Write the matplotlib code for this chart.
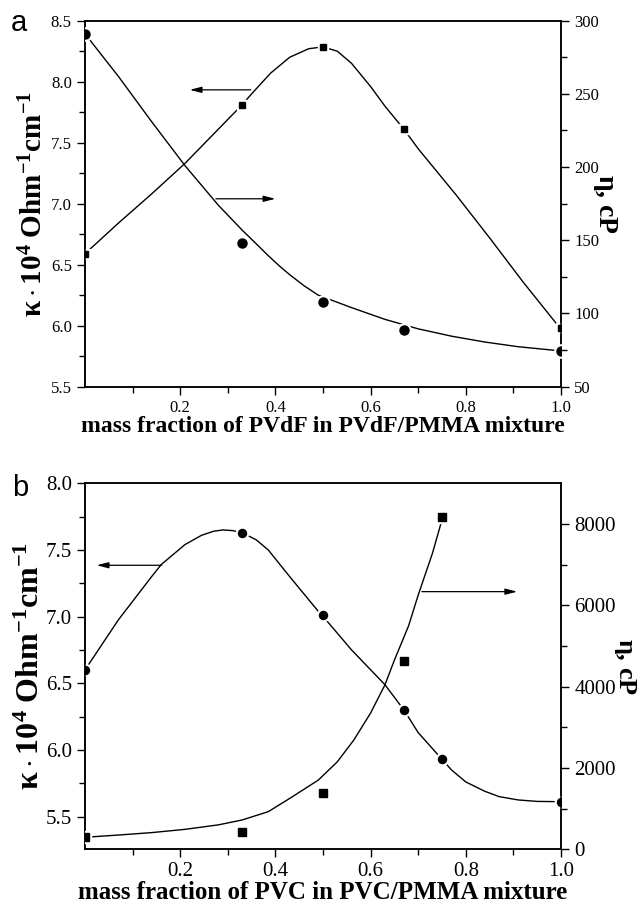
import matplotlib
matplotlib.use("Agg")
import matplotlib.pyplot as plt
from matplotlib.ticker import FixedLocator, FormatStrFormatter

plt.rcParams['font.family'] = 'Liberation Serif'
plt.rcParams['mathtext.fontset'] = 'custom'
plt.rcParams['mathtext.rm'] = 'Liberation Serif'
plt.rcParams['mathtext.it'] = 'Liberation Serif:italic'
plt.rcParams['mathtext.bf'] = 'Liberation Serif:bold'

# ---- panel a: PVdF/PMMA ----
a_x = [0, 0.33, 0.5, 0.67, 1.0]
a_kappa = [6.59, 7.81, 8.28, 7.61, 5.98]      # squares, left axis
a_eta = [291, 148, 108, 88.5, 74.4]           # circles, right axis

# smooth curves
a_kappa_cx = [0, 0.07, 0.14, 0.21, 0.28, 0.33, 0.35, 0.39, 0.43, 0.47, 0.50,
              0.53, 0.56, 0.60, 0.63, 0.67, 0.70, 0.78, 0.85, 0.92, 1.0]
a_kappa_cy = [6.59, 6.84, 7.08, 7.33, 7.61, 7.81, 7.90, 8.07, 8.20, 8.27, 8.285,
              8.25, 8.15, 7.96, 7.80, 7.61, 7.45, 7.07, 6.72, 6.36, 5.97]
a_eta_cx = [0, 0.07, 0.14, 0.21, 0.28, 0.33, 0.36, 0.385, 0.41, 0.43, 0.46, 0.49,
            0.56, 0.63, 0.70, 0.77, 0.84, 0.91, 1.0]
a_eta_cy = [291, 262, 231, 201, 174, 157, 147.5, 139.5, 132, 126.5, 119, 112.5,
            104, 96, 89.5, 84.5, 80.5, 77.3, 74.4]

# ---- panel b: PVC/PMMA ----
b_kx = [0, 0.33, 0.5, 0.67, 0.75, 1.0]
b_kappa = [6.60, 7.625, 7.01, 6.30, 5.934, 5.61]   # circles, left axis
b_ex = [0, 0.33, 0.5, 0.67, 0.75]
b_eta = [295, 433, 1377, 4640, 8180]               # squares, right axis

b_kappa_cx = [0, 0.07, 0.14, 0.16, 0.21, 0.245, 0.27, 0.29, 0.31, 0.33, 0.36,
              0.385, 0.43, 0.49, 0.51, 0.56, 0.63, 0.67, 0.70, 0.75, 0.77, 0.80,
              0.84, 0.87, 0.91, 0.95, 1.0]
b_kappa_cy = [6.60, 6.975, 7.30, 7.39, 7.54, 7.61, 7.64, 7.65, 7.645, 7.63, 7.575,
              7.50, 7.30, 7.04, 6.96, 6.75, 6.49, 6.30, 6.13, 5.93, 5.85, 5.76,
              5.69, 5.65, 5.625, 5.614, 5.612]
b_eta_cx = [0, 0.07, 0.14, 0.21, 0.28, 0.33, 0.385, 0.43, 0.49, 0.53, 0.565,
            0.6, 0.63, 0.65, 0.68, 0.70, 0.73, 0.75]
b_eta_cy = [295, 350, 410, 490, 600, 720, 925, 1250, 1700, 2150, 2690,
            3350, 4040, 4650, 5500, 6250, 7280, 8100]

xticks = [0.2, 0.4, 0.6, 0.8, 1.0]
xminor = [0.1, 0.3, 0.5, 0.7, 0.9]

fig = plt.figure(figsize=(6.42, 9.06), dpi=100)


def style(ax, side, fs):
    for s in ax.spines.values():
        s.set_linewidth(1.1)
    ax.tick_params(axis='both', which='major', direction='out', length=6, width=1.0, labelsize=fs)
    ax.tick_params(axis='both', which='minor', direction='out', length=4, width=1.0)
    ax.tick_params(axis='x', top=False, which='both')
    if side == 'left':
        ax.tick_params(axis='y', left=True, right=False, which='both')
    else:
        ax.tick_params(axis='y', left=False, right=True, which='both')


def curve(ax, cx, cy, mx, my, marker, ms):
    ax.plot(cx, cy, color='black', lw=1.0, zorder=2)
    ax.plot(mx, my, ls='none', marker=marker, ms=ms + 3, color='white', zorder=3)
    ax.plot(mx, my, ls='none', marker=marker, ms=ms, color='black', zorder=4)


def arrow(ax, x0, x1, y):
    ax.annotate('', xy=(x1, y), xytext=(x0, y),
                arrowprops=dict(arrowstyle='-|>,head_length=0.7,head_width=0.18',
                                color='black', lw=0.9, shrinkA=0, shrinkB=0))


kappa_label = r'$\mathbf{\kappa\cdot10^{4}\ Ohm^{-1}cm^{-1}}$'

# panel a
ax1 = fig.add_axes([0.1324, 0.5732, 0.7414, 0.404])
ax1r = ax1.twinx()
curve(ax1, a_kappa_cx, a_kappa_cy, a_x, a_kappa, 's', 4.8)
curve(ax1r, a_eta_cx, a_eta_cy, a_x, a_eta, 'o', 6.5)
ax1.set_xlim(0, 1.0)
ax1.set_ylim(5.5, 8.5)
ax1r.set_ylim(50, 300)
ax1.xaxis.set_major_locator(FixedLocator(xticks))
ax1.xaxis.set_minor_locator(FixedLocator(xminor))
ax1.xaxis.set_major_formatter(FormatStrFormatter('%.1f'))
ax1.yaxis.set_major_locator(FixedLocator([5.5, 6.0, 6.5, 7.0, 7.5, 8.0, 8.5]))
ax1.yaxis.set_minor_locator(FixedLocator([5.75, 6.25, 6.75, 7.25, 7.75, 8.25]))
ax1.yaxis.set_major_formatter(FormatStrFormatter('%.1f'))
ax1r.yaxis.set_major_locator(FixedLocator([50, 100, 150, 200, 250, 300]))
ax1r.yaxis.set_minor_locator(FixedLocator([75, 125, 175, 225, 275]))
style(ax1, 'left', 12)
style(ax1r, 'right', 12)
ax1.set_xlabel('mass fraction of PVdF in PVdF/PMMA mixture', fontsize=17,
               fontweight='bold', labelpad=0)
ax1.set_ylabel(kappa_label, fontsize=21, labelpad=2)
ax1r.set_ylabel(r'$\mathbf{\eta}$, cP', fontsize=20, fontweight='bold',
                rotation=270, labelpad=14)
arrow(ax1, 0.348, 0.22, 7.933)
arrow(ax1, 0.275, 0.40, 7.04)
fig.text(0.029, 0.975, 'a', family='Liberation Sans', fontsize=21, va='center', ha='center')

# panel b
ax2 = fig.add_axes([0.1324, 0.0626, 0.7414, 0.404])
ax2r = ax2.twinx()
curve(ax2, b_kappa_cx, b_kappa_cy, b_kx, b_kappa, 'o', 5.8)
curve(ax2r, b_eta_cx, b_eta_cy, b_ex, b_eta, 's', 5.5)
ax2.set_xlim(0, 1.0)
ax2.set_ylim(5.255, 8.0)
ax2r.set_ylim(0, 9000)
ax2.xaxis.set_major_locator(FixedLocator(xticks))
ax2.xaxis.set_minor_locator(FixedLocator(xminor))
ax2.xaxis.set_major_formatter(FormatStrFormatter('%.1f'))
ax2.yaxis.set_major_locator(FixedLocator([5.5, 6.0, 6.5, 7.0, 7.5, 8.0]))
ax2.yaxis.set_minor_locator(FixedLocator([5.75, 6.25, 6.75, 7.25, 7.75]))
ax2.yaxis.set_major_formatter(FormatStrFormatter('%.1f'))
ax2r.yaxis.set_major_locator(FixedLocator([0, 2000, 4000, 6000, 8000]))
ax2r.yaxis.set_minor_locator(FixedLocator([1000, 3000, 5000, 7000]))
style(ax2, 'left', 15)
style(ax2r, 'right', 15)
ax2.set_xlabel('mass fraction of PVC in PVC/PMMA mixture', fontsize=18,
               fontweight='bold', labelpad=0)
ax2.set_ylabel(kappa_label, fontsize=23, labelpad=0)
ax2r.set_ylabel(r'$\mathbf{\eta}$, cP', fontsize=19, fontweight='bold',
                rotation=270, labelpad=16)
arrow(ax2, 0.161, 0.0245, 7.385)
arrow(ax2r, 0.708, 0.908, 6335)
fig.text(0.031, 0.4614, 'b', family='Liberation Sans', fontsize=21, va='center', ha='center')

fig.savefig('out.png', dpi=100)
